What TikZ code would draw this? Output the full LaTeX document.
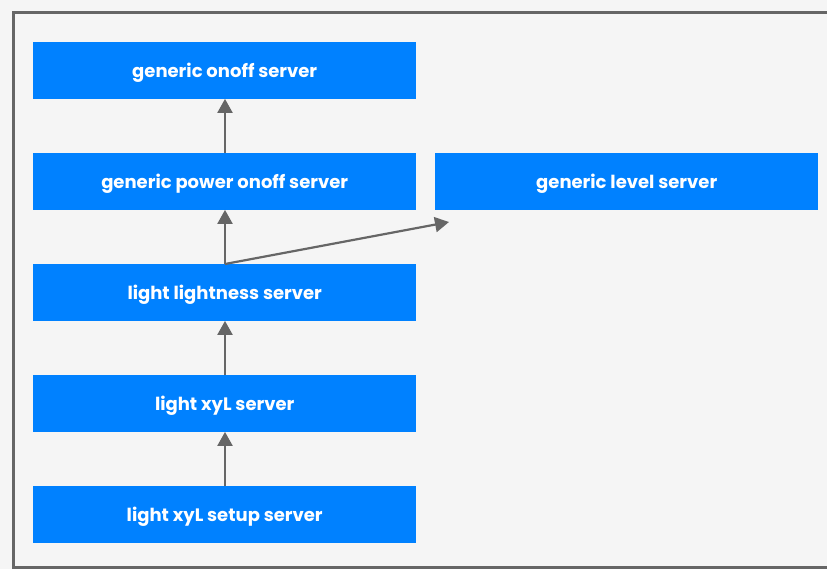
\documentclass[tikz,border=0pt]{standalone}
\usepackage{fontspec}
\setmainfont{Poppins}
\usetikzlibrary{arrows.meta}
\definecolor{boxblue}{HTML}{0081FF}
\definecolor{bggray}{HTML}{F5F5F5}
\definecolor{linegray}{HTML}{666666}
\tikzset{
  modelbox/.style={fill=boxblue, draw=none, minimum width=383bp, minimum height=56.5bp, inner sep=0pt,
    text=white, font=\fontsize{18bp}{20bp}\selectfont\bfseries, anchor=north west,
    text height=15bp, text depth=0pt},
  conn/.style={draw=linegray, line width=2.2bp, -{Triangle[length=14bp,width=15bp]}}
}
\begin{document}
\begin{tikzpicture}[x=1bp,y=-1bp]
\fill[bggray] (0,0) rectangle (827,569);
\useasboundingbox (0,0) rectangle (827,569);
\draw[linegray, line width=3bp] (830,12.5) -- (13.5,12.5) -- (13.5,567.5) -- (830,567.5);
\node[modelbox] (onoff) at (33,42) {generic onoff server};
\node[modelbox] (power) at (33,153) {generic power onoff server};
\node[modelbox] (level) at (435,153) {generic level server};
\node[modelbox] (light) at (33,264) {light lightness server};
\node[modelbox] (xyl) at (33,375) {light xyL server};
\node[modelbox] (setup) at (33,486) {light xyL setup server};
\coordinate (lvltip) at (449,222);
\draw[conn] (power.north -| 225,0) -- (onoff.south -| 225,0);
\draw[conn] (light.north -| 225,0) -- (power.south -| 225,0);
\draw[conn] (light.north -| 225,0) -- (lvltip);
\draw[conn] (xyl.north -| 225,0) -- (light.south -| 225,0);
\draw[conn] (setup.north -| 225,0) -- (xyl.south -| 225,0);
\end{tikzpicture}
\end{document}
